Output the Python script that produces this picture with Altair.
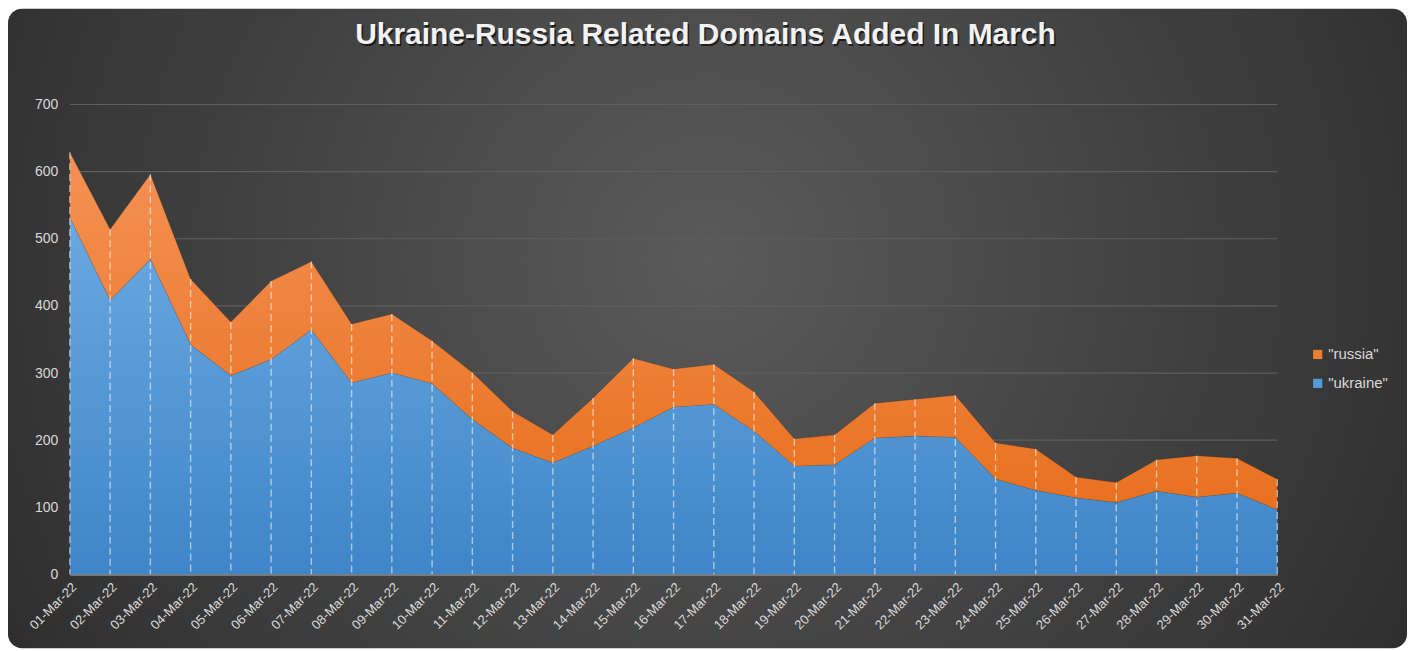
import altair as alt
import pandas as pd

days = ["01-Mar-22", "02-Mar-22", "03-Mar-22", "04-Mar-22", "05-Mar-22", "06-Mar-22",
        "07-Mar-22", "08-Mar-22", "09-Mar-22", "10-Mar-22", "11-Mar-22", "12-Mar-22",
        "13-Mar-22", "14-Mar-22", "15-Mar-22", "16-Mar-22", "17-Mar-22", "18-Mar-22",
        "19-Mar-22", "20-Mar-22", "21-Mar-22", "22-Mar-22", "23-Mar-22", "24-Mar-22",
        "25-Mar-22", "26-Mar-22", "27-Mar-22", "28-Mar-22", "29-Mar-22", "30-Mar-22",
        "31-Mar-22"]
ukraine = [531, 408, 469, 342, 296, 320, 364, 285, 300, 284, 231, 188, 166, 191, 218, 249,
           253, 213, 161, 163, 203, 206, 204, 142, 125, 114, 107, 124, 115, 121, 96]
russia = [98, 106, 127, 98, 80, 117, 102, 88, 88, 64, 70, 55, 42, 72, 104, 57,
          60, 59, 41, 45, 52, 55, 63, 54, 62, 31, 30, 47, 62, 52, 46]
y_ticks = [0, 100, 200, 300, 400, 500, 600, 700]
series_names = ['"russia"', '"ukraine"']
title_text = "Ukraine-Russia Related Domains Added In March"

W, H = 1210, 471
FONT = "Liberation Sans"
LABEL = "#d9d9d9"
ORANGE = "#ee7d2e"
BLUE = "#5599d8"

df = pd.DataFrame({"day": days, "ukraine": ukraine, "russia": russia})
df["total"] = df["ukraine"] + df["russia"]
long_df = pd.concat([
    pd.DataFrame({"day": days, "series": series_names[0], "value": russia}),
    pd.DataFrame({"day": days, "series": series_names[1], "value": ukraine}),
])

x_scale = alt.Scale(type="point", padding=0)
x_enc = alt.X("day:O", sort=None, scale=x_scale,
              axis=alt.Axis(title=None, labelAngle=-45, labelColor=LABEL, labelFont=FONT,
                            labelFontSize=13, ticks=False, domainColor="#8a8a8a",
                            domainWidth=1.5, labelPadding=6, grid=False, zindex=1))
y_scale = alt.Scale(domain=[0, 700], nice=False)

bg = alt.Chart(pd.DataFrame({"a": [0]})).mark_rect(
    cornerRadius=14,
    fill=alt.Gradient(gradient="radial",
                      stops=[alt.GradientStop(color="#5a5a5a", offset=0),
                             alt.GradientStop(color="#3c3c3c", offset=0.55),
                             alt.GradientStop(color="#232323", offset=1)],
                      x1=0.5, y1=0.45, r1=0, x2=0.5, y2=0.45, r2=0.72),
).encode(x=alt.value(-62), x2=alt.value(W + 130), y=alt.value(-96), y2=alt.value(H + 74))

grid = alt.Chart(pd.DataFrame({"v": y_ticks[1:]})).mark_rule(color="#5e5e5e", strokeWidth=1.2).encode(
    y=alt.Y("v:Q", scale=y_scale,
            axis=alt.Axis(title=None, values=y_ticks, labelColor=LABEL, labelFont=FONT,
                          labelFontSize=14, ticks=False, domain=False, grid=False,
                          labelPadding=12, zindex=1)))

base = alt.Chart(df)

orange_area = base.mark_area(
    fill=alt.Gradient(gradient="linear",
                      stops=[alt.GradientStop(color="#f49155", offset=0),
                             alt.GradientStop(color="#e8711f", offset=1)],
                      x1=0, x2=0, y1=0, y2=1),
    stroke="#3a2a20", strokeWidth=0.6, strokeOpacity=0.5,
).encode(x=x_enc, y=alt.Y("total:Q", scale=y_scale), y2="ukraine:Q")

blue_area = base.mark_area(
    fill=alt.Gradient(gradient="linear",
                      stops=[alt.GradientStop(color="#6ba8e1", offset=0),
                             alt.GradientStop(color="#3e86c8", offset=1)],
                      x1=0, x2=0, y1=0, y2=1),
).encode(x=alt.X("day:O", sort=None, scale=x_scale), y=alt.Y("ukraine:Q", scale=y_scale),
         y2=alt.datum(0))

dashes = base.mark_rule(color="white", strokeDash=[7, 4], strokeWidth=1.4, opacity=0.55).encode(
    x=alt.X("day:O", sort=None, scale=x_scale), y=alt.Y("total:Q", scale=y_scale),
    y2=alt.datum(0))

legend_layer = alt.Chart(long_df).mark_square(size=0, opacity=0).encode(
    x=alt.X("day:O", sort=None, scale=x_scale), y=alt.Y("value:Q", scale=y_scale),
    color=alt.Color("series:N",
                    scale=alt.Scale(domain=series_names, range=[ORANGE, BLUE]),
                    legend=alt.Legend(title=None, orient="none", legendX=W + 33, legendY=243,
                                      symbolType="square", symbolSize=85, symbolOpacity=1,
                                      symbolStrokeWidth=0, labelColor=LABEL, labelFont=FONT,
                                      labelFontSize=15, rowPadding=13, labelOffset=3)),
)

title_df = pd.DataFrame({"t": [title_text]})
title_shadow = alt.Chart(title_df).mark_text(
    font=FONT, fontSize=30, fontWeight="bold", color="black", opacity=0.6,
    align="center", baseline="middle", dx=1.5, dy=2,
).encode(text="t:N", x=alt.value(637), y=alt.value(-70))
title = alt.Chart(title_df).mark_text(
    font=FONT, fontSize=30, fontWeight="bold", color="#f2f2f2",
    align="center", baseline="middle",
).encode(text="t:N", x=alt.value(637), y=alt.value(-70))

chart = alt.layer(bg, grid, orange_area, blue_area, dashes, legend_layer, title_shadow, title).properties(
    width=W, height=H, padding=0, background="white",
).configure_view(stroke=None)

chart.save("out.html", embed_options={"renderer": "svg", "actions": False})
